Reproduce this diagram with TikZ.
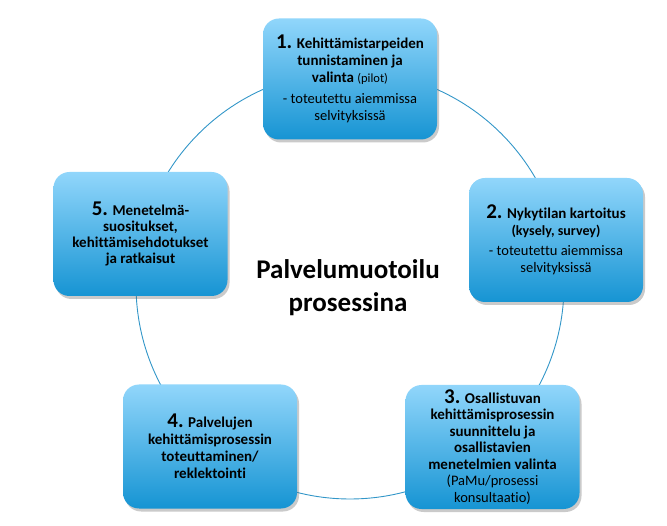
\documentclass[tikz,border=0pt]{standalone}
\usepackage{fontspec}
\setmainfont[Ligatures=NoCommon]{Carlito}
\usetikzlibrary{shadows}

\definecolor{boxtop}{RGB}{145,214,251}
\definecolor{boxmid}{RGB}{110,196,242}
\definecolor{boxbottom}{RGB}{22,148,211}
\definecolor{ringline}{RGB}{50,150,200}

\tikzset{
  stepbox/.style={rectangle, rounded corners=16pt, minimum width=174pt,
    minimum height=124pt, inner sep=2pt, align=center,
    top color=boxtop, middle color=boxmid, bottom color=boxbottom,
    drop shadow={shadow xshift=2pt, shadow yshift=-3pt, opacity=0.35, fill=black!60},
    font=\fontsize{15}{17}\selectfont\bfseries},
  titletext/.style={align=center, font=\fontsize{27}{33}\selectfont\bfseries}
}
\newcommand{\stepnum}[1]{{\fontsize{21}{17}\selectfont #1}}
\newcommand{\stepnote}{\mdseries\fontsize{14.5}{16.5}\selectfont}

\begin{document}
\begin{tikzpicture}[x=1pt, y=-1pt]
        \useasboundingbox (0,0) rectangle (667,526);

        % the ring behind the steps
        \draw[ringline, line width=0.9pt] (350,285) circle [radius=214pt];

        \node[stepbox, minimum height=121pt] (vaihe1) at (350,79) {\stepnum{1.} Kehittämistarpeiden\\tunnistaminen ja\\valinta {\mdseries\fontsize{12.5}{16}\selectfont(pilot)}\\[4pt]\stepnote - toteutettu aiemmissa\\\stepnote selvityksissä};

        \node[stepbox] (vaihe2) at (556,240) {\stepnum{2.} Nykytilan kartoitus\\{\fontsize{14}{16}\selectfont(kysely, survey)}\\[3pt]\stepnote - toteutettu aiemmissa\\\stepnote selvityksissä};

        \node[stepbox, font=\fontsize{15}{16.5}\selectfont\bfseries] (vaihe3) at (492.5,447) {\stepnum{3.} Osallistuvan\\kehittämisprosessin\\suunnittelu ja\\osallistavien\\menetelmien valinta\\\stepnote (PaMu/prosessi\\\stepnote konsultaatio)};

        \node[stepbox] (vaihe4) at (210,446.5) {\stepnum{4.} Palvelujen\\kehittämisprosessin\\toteuttaminen/\\reklektointi};

        \node[stepbox, font=\fontsize{15}{16}\selectfont\bfseries] (vaihe5) at (140.5,234) {\stepnum{5.} Menetelmä-\\suositukset,\\kehittämisehdotukset\\ja ratkaisut};

        \node[titletext] (otsikko) at (348,288) {Palvelumuotoilu\\prosessina};
    \end{tikzpicture}
\end{document}
